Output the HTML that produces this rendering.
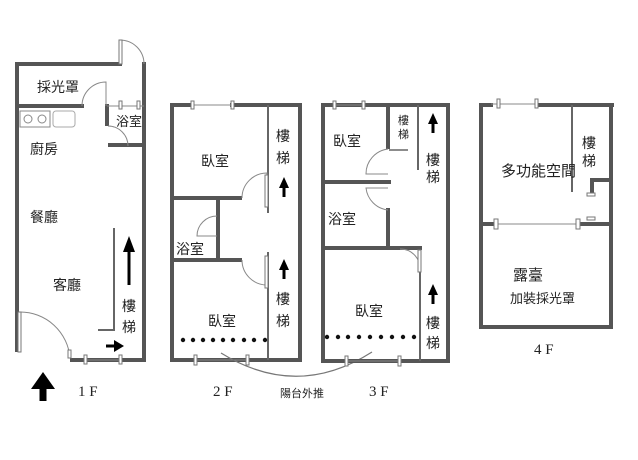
<!DOCTYPE html>
<html><head><meta charset="utf-8"><style>
html,body{margin:0;padding:0;background:#fff;}
svg{display:block;}
text{font-family:"Liberation Sans","Noto Sans CJK TC",sans-serif;fill:#222;}
text.s{font-family:"Liberation Serif",serif;}
.w{stroke:#555;stroke-width:4;fill:none;stroke-linecap:square;}
.t{stroke:#666;stroke-width:2;fill:none;}
.th{stroke:#888;stroke-width:1;fill:none;}
.win{fill:#fff;stroke:#777;stroke-width:1;}
</style></head><body>
<svg width="638" height="460" viewBox="0 0 638 460" xmlns="http://www.w3.org/2000/svg">
<!-- 1F -->
<path class="w" d="M17 350 V64 H120 M144 64 V360 H72"/>
<path class="w" d="M17 106 H82 M107 106 V124 M110 145 H144"/>
<line class="th" x1="107" y1="106" x2="144" y2="106"/>
<rect class="win" x="119" y="101" width="3" height="8"/><rect class="win" x="137" y="101" width="3" height="8"/>
<path class="th" d="M120 64 V40 A24 24 0 0 1 144 64"/>
<rect class="win" x="119" y="40" width="3" height="24"/>
<path class="th" d="M82 106 A24 24 0 0 1 106 82 V106"/>
<path class="th" d="M108 126 A20 20 0 0 1 128 146"/>
<line class="th" x1="85" y1="360" x2="120" y2="360"/>
<rect class="win" x="84" y="355" width="3" height="9"/><rect class="win" x="119" y="355" width="3" height="9"/>
<path class="th" d="M20 312 A50 50 0 0 1 70 358"/>
<rect class="win" x="18" y="312" width="3" height="40"/><rect class="win" x="68" y="350" width="3" height="8"/>
<rect x="20" y="111" width="30" height="16" fill="#fff" stroke="#888"/>
<circle cx="28" cy="119" r="4" fill="none" stroke="#888"/><circle cx="42" cy="119" r="4" fill="none" stroke="#888"/>
<rect x="53" y="111" width="22" height="16" rx="3" fill="#fff" stroke="#aaa"/>
<path class="t" d="M114 228 V330 H98"/>
<path d="M129 240 V285" stroke="#000" stroke-width="3"/><path d="M123 252 L129 236 L135 252Z" fill="#000"/>
<path d="M106 346 H118" stroke="#000" stroke-width="3"/><path d="M114 340 L124 346 L114 352Z" fill="#000"/>
<text x="37" y="92" font-size="14">採光罩</text>
<text x="116" y="126" font-size="13">浴室</text>
<text x="30" y="154" font-size="14">廚房</text>
<text x="30" y="222" font-size="14">餐廳</text>
<text x="53" y="290" font-size="14">客廳</text>
<text x="122" y="311" font-size="14">樓</text><text x="122" y="332" font-size="14">梯</text>
<path d="M43 401 V384" stroke="#000" stroke-width="7"/><path d="M31 389 L43 372 L55 389Z" fill="#000"/>
<text class="s" x="78" y="396" font-size="15">1 F</text>
<!-- 2F -->
<path class="w" d="M172 105 V360 H300 V105 H232 M172 105 H192"/>
<line class="th" x1="192" y1="105" x2="232" y2="105"/>
<rect class="win" x="191" y="101" width="3" height="8"/><rect class="win" x="231" y="101" width="3" height="8"/>
<line x1="268" y1="105" x2="268" y2="213" stroke="#666" stroke-width="2"/>
<line x1="268" y1="252" x2="268" y2="360" stroke="#666" stroke-width="2"/>
<path class="w" d="M172 198 H240 M218 198 V260 M172 260 H240"/>
<path class="th" d="M242 198 A25 25 0 0 1 267 173 V198"/>
<path class="th" d="M217 216 A20 20 0 0 0 197 236 H217"/>
<path class="th" d="M242 260 A25 25 0 0 0 267 285 V260"/>
<rect class="win" x="265" y="175" width="3" height="32"/><rect class="win" x="265" y="256" width="3" height="32"/>
<line class="th" x1="195" y1="360" x2="247" y2="360"/>
<rect class="win" x="194" y="355" width="3" height="10"/><rect class="win" x="246" y="355" width="3" height="10"/>
<g fill="#111"><circle cx="183" cy="340" r="2.2"/><circle cx="193" cy="340" r="2.2"/><circle cx="203" cy="340" r="2.2"/><circle cx="213" cy="340" r="2.2"/><circle cx="223" cy="340" r="2.2"/><circle cx="233" cy="340" r="2.2"/><circle cx="244" cy="340" r="2.2"/><circle cx="254" cy="340" r="2.2"/><circle cx="265" cy="340" r="2.2"/></g>
<text x="201" y="166" font-size="14">臥室</text>
<text x="176" y="254" font-size="14">浴室</text>
<text x="208" y="326" font-size="14">臥室</text>
<text x="276" y="141" font-size="14">樓</text><text x="276" y="163" font-size="14">梯</text>
<text x="276" y="304" font-size="14">樓</text><text x="276" y="326" font-size="14">梯</text>
<path d="M284 197 V184" stroke="#000" stroke-width="3"/><path d="M279 188 L284 177 L289 188Z" fill="#000"/>
<path d="M284 279 V266" stroke="#000" stroke-width="3"/><path d="M279 270 L284 259 L289 270Z" fill="#000"/>
<text class="s" x="213" y="396" font-size="15">2 F</text>
<path d="M221 353 Q297 400 372 352" stroke="#777" stroke-width="1.2" fill="none"/>
<text x="280" y="397" font-size="11">陽台外推</text>
<!-- 3F -->
<path class="w" d="M323 105 V361 H448 V105 H323"/>
<line class="th" x1="334" y1="105" x2="363" y2="105"/>
<rect class="win" x="333" y="101" width="3" height="8"/><rect class="win" x="362" y="101" width="3" height="8"/>
<path class="w" d="M388 105 V147 M388 210 V248 M323 182 H389 M323 248 H420"/>
<line x1="389" y1="150" x2="408" y2="150" stroke="#666" stroke-width="1.5"/>
<line x1="418" y1="105" x2="418" y2="170" stroke="#666" stroke-width="2"/>
<line x1="420" y1="250" x2="420" y2="361" stroke="#666" stroke-width="2"/>
<path class="th" d="M388 149 A25 25 0 0 0 366 174 H388"/>
<path class="th" d="M388 210 A25 25 0 0 1 366 188 H388"/>
<path class="th" d="M400 249 A20 20 0 0 1 420 272"/>
<rect class="win" x="418" y="250" width="3" height="22"/>
<line class="th" x1="346" y1="361" x2="399" y2="361"/>
<rect class="win" x="345" y="356" width="3" height="10"/><rect class="win" x="398" y="356" width="3" height="10"/>
<g fill="#111"><circle cx="327" cy="337" r="2.2"/><circle cx="338" cy="337" r="2.2"/><circle cx="348" cy="337" r="2.2"/><circle cx="359" cy="337" r="2.2"/><circle cx="370" cy="337" r="2.2"/><circle cx="381" cy="337" r="2.2"/><circle cx="392" cy="337" r="2.2"/><circle cx="403" cy="337" r="2.2"/><circle cx="414" cy="337" r="2.2"/></g>
<text x="333" y="146" font-size="14">臥室</text>
<text x="398" y="124" font-size="11">樓</text><text x="398" y="138" font-size="11">梯</text>
<text x="426" y="165" font-size="14">樓</text><text x="426" y="182" font-size="14">梯</text>
<text x="328" y="224" font-size="14">浴室</text>
<text x="355" y="316" font-size="14">臥室</text>
<text x="426" y="328" font-size="14">樓</text><text x="426" y="348" font-size="14">梯</text>
<path d="M433 133 V120" stroke="#000" stroke-width="3"/><path d="M428 124 L433 113 L438 124Z" fill="#000"/>
<path d="M433 304 V291" stroke="#000" stroke-width="3"/><path d="M428 295 L433 284 L438 295Z" fill="#000"/>
<text class="s" x="369" y="396" font-size="15">3 F</text>
<!-- 4F -->
<path class="w" d="M481 105 V327 H611 V108 M481 105 H491 M538 105 H612"/>
<line class="th" x1="491" y1="104" x2="538" y2="104"/>
<rect class="win" x="497" y="99" width="3" height="9"/><rect class="win" x="535" y="99" width="3" height="9"/>
<line x1="572" y1="105" x2="572" y2="192" stroke="#666" stroke-width="2"/>
<path class="w" d="M592 193 V180 H610"/>
<rect class="win" x="587" y="193" width="8" height="3"/><rect class="win" x="587" y="217" width="8" height="3"/>
<path class="w" d="M481 224 H495 M580 224 H610"/>
<line class="th" x1="495" y1="224" x2="580" y2="224"/>
<rect class="win" x="494" y="219" width="4" height="10"/><rect class="win" x="576" y="219" width="4" height="10"/>
<text x="501" y="176" font-size="15">多功能空間</text>
<text x="582" y="148" font-size="14">樓</text><text x="582" y="166" font-size="14">梯</text>
<text x="513" y="280" font-size="15">露臺</text>
<text x="510" y="303" font-size="13">加裝採光罩</text>
<text class="s" x="534" y="354" font-size="15">4 F</text>
</svg>
</body></html>
